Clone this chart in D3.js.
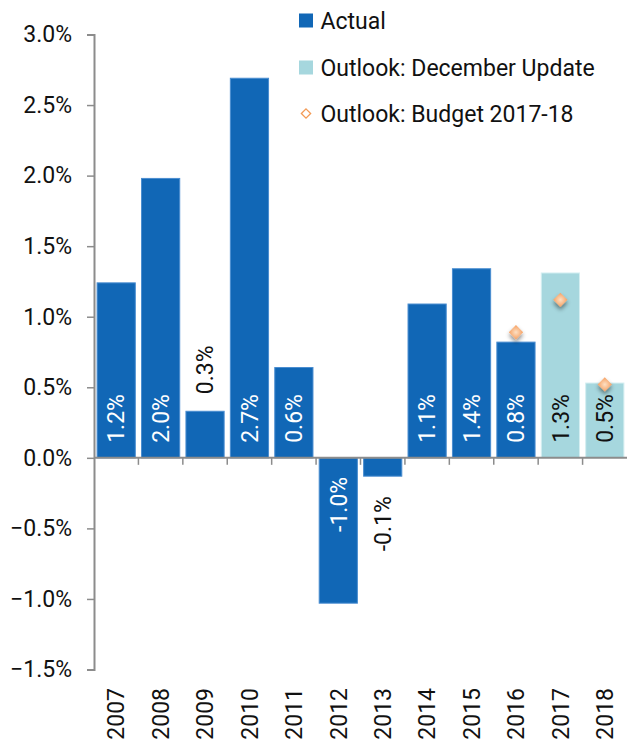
<!DOCTYPE html>
<html>
<head>
<meta charset="utf-8">
<script src="https://cdn.jsdelivr.net/npm/d3@7/dist/d3.min.js"></script>
<style>
  html, body { margin: 0; padding: 0; background: #fff; }
  svg { display: block; font-family: Roboto, "Noto Sans", sans-serif; }
</style>
</head>
<body>
<svg id="chart" width="627" height="739"></svg>
<script>
const years = ["2007","2008","2009","2010","2011","2012","2013","2014","2015","2016","2017","2018"];
const actual = [1.24, 1.98, 0.33, 2.69, 0.64, -1.03, -0.13, 1.09, 1.34, 0.82, null, null];
const decUpdate = [null, null, null, null, null, null, null, null, null, null, 1.31, 0.53];
const budget = [null, null, null, null, null, null, null, null, null, 0.89, 1.12, 0.52];
const barLabels = ["1.2%","2.0%","0.3%","2.7%","0.6%","-1.0%","-0.1%","1.1%","1.4%","0.8%","1.3%","0.5%"];
const labelOutside = [false,false,true,false,false,false,true,false,false,false,false,false];
const yTicks = [-1.5, -1.0, -0.5, 0, 0.5, 1.0, 1.5, 2.0, 2.5, 3.0];
const legendItems = ["Actual", "Outlook: December Update", "Outlook: Budget 2017-18"];

const svg = d3.select("#chart");
const mLeft = 94, mRight = 627, mTop = 34.5, mBottom = 669.5;
const fs = 23;

const x = d3.scaleBand().domain(years).range([mLeft, mRight]).paddingInner(0.14).paddingOuter(0.07);
const xb = d3.scaleBand().domain(years).range([mLeft, mRight]);
const y = d3.scaleLinear().domain([-1.5, 3.0]).range([mBottom, mTop]);

const defs = svg.append("defs");
const rg = defs.append("radialGradient").attr("id", "dg");
rg.append("stop").attr("offset", "0%").attr("stop-color", "#fde0c4");
rg.append("stop").attr("offset", "100%").attr("stop-color", "#f6a062");
const flt = defs.append("filter").attr("id", "sh").attr("x", "-60%").attr("y", "-60%").attr("width", "220%").attr("height", "240%");
flt.append("feDropShadow").attr("dx", 0).attr("dy", 3).attr("stdDeviation", 2.2).attr("flood-color", "#000").attr("flood-opacity", 0.45);

const cActual = "#1167b6", cDec = "#a6d7de", axisCol = "#8c8c8c";

// bars
const rows = years.map((yr, i) => ({yr, i, a: actual[i], d: decUpdate[i]}));
rows.forEach(r => {
  const v = r.a !== null ? r.a : r.d;
  if (v === null) return;
  r.v = v;
  r.color = r.a !== null ? cActual : cDec;
});
svg.append("g").selectAll("rect").data(rows.filter(r => r.v !== undefined)).join("rect")
  .attr("x", r => x(r.yr))
  .attr("width", x.bandwidth())
  .attr("y", r => y(Math.max(0, r.v)))
  .attr("height", r => Math.abs(y(r.v) - y(0)))
  .attr("fill", r => r.color)
  .attr("stroke", r => r.a !== null ? "#4a8dd0" : "#d4eef1")
  .attr("stroke-width", 1);

// axes
const gy = svg.append("g").attr("transform", `translate(${mLeft},0)`)
  .call(d3.axisLeft(y).tickValues(yTicks).tickSize(7).tickPadding(15).tickFormat(d => d3.format(".1f")(d) + "%"));
gy.select(".domain").attr("stroke", axisCol).attr("stroke-width", 2);
gy.selectAll(".tick line").attr("stroke", axisCol).attr("stroke-width", 1.5);
gy.selectAll(".tick text").attr("font-size", fs).attr("fill", "#111").attr("font-family", "Roboto");

const gx = svg.append("g").attr("transform", `translate(0,${y(0)})`);
gx.append("line").attr("x1", mLeft).attr("x2", mRight).attr("stroke", axisCol).attr("stroke-width", 2);
gx.selectAll("line.tk").data(years.slice(1)).join("line").attr("class", "tk")
  .attr("x1", d => xb(d)).attr("x2", d => xb(d)).attr("y1", 0).attr("y2", 7)
  .attr("stroke", axisCol).attr("stroke-width", 1.5);

// x category labels
svg.append("g").selectAll("text").data(years).join("text")
  .attr("transform", d => `translate(${xb(d) + xb.bandwidth() / 2},688) rotate(-90)`)
  .attr("text-anchor", "end").attr("dy", "0.36em")
  .attr("font-size", fs).attr("fill", "#111").text(d => d);

// bar value labels
svg.append("g").selectAll("text").data(rows.filter(r => r.v !== undefined)).join("text")
  .attr("transform", r => {
    let py;
    if (labelOutside[r.i]) py = r.v >= 0 ? y(r.v) - 17 : y(r.v) + 20;
    else py = r.v >= 0 ? y(0) - 15 : y(0) + 19;
    return `translate(${xb(r.yr) + xb.bandwidth() / 2},${py}) rotate(-90)`;
  })
  .attr("text-anchor", r => r.v >= 0 ? "start" : "end")
  .attr("dy", "0.36em")
  .attr("font-size", fs)
  .attr("fill", r => (labelOutside[r.i] || r.a === null) ? "#111" : "#fff")
  .text(r => barLabels[r.i]);

// budget diamonds
const sym = d3.symbol().type(d3.symbolDiamond2).size(130);
svg.append("g").selectAll("path").data(years.map((yr, i) => ({yr, v: budget[i]})).filter(d => d.v !== null)).join("path")
  .attr("d", sym)
  .attr("transform", d => `translate(${xb(d.yr) + xb.bandwidth() / 2},${y(d.v)})`)
  .attr("fill", "url(#dg)")
  .attr("filter", "url(#sh)");

// legend
const lg = svg.append("g");
const ly = [20.5, 67.5, 113.5];
legendItems.forEach((t, i) => {
  if (i < 2) {
    lg.append("rect").attr("x", 299).attr("y", ly[i] - 7).attr("width", 14).attr("height", 14)
      .attr("fill", i === 0 ? cActual : cDec);
  } else {
    lg.append("path").attr("d", d3.symbol().type(d3.symbolDiamond2).size(55)())
      .attr("transform", `translate(306,${ly[i]})`)
      .attr("fill", "none").attr("stroke", "#f39a55").attr("stroke-width", 1.3);
  }
  lg.append("text").attr("x", 320.5).attr("y", ly[i]).attr("dy", "0.36em")
    .attr("font-size", fs).attr("fill", "#111").text(t);
});
</script>
</body>
</html>
